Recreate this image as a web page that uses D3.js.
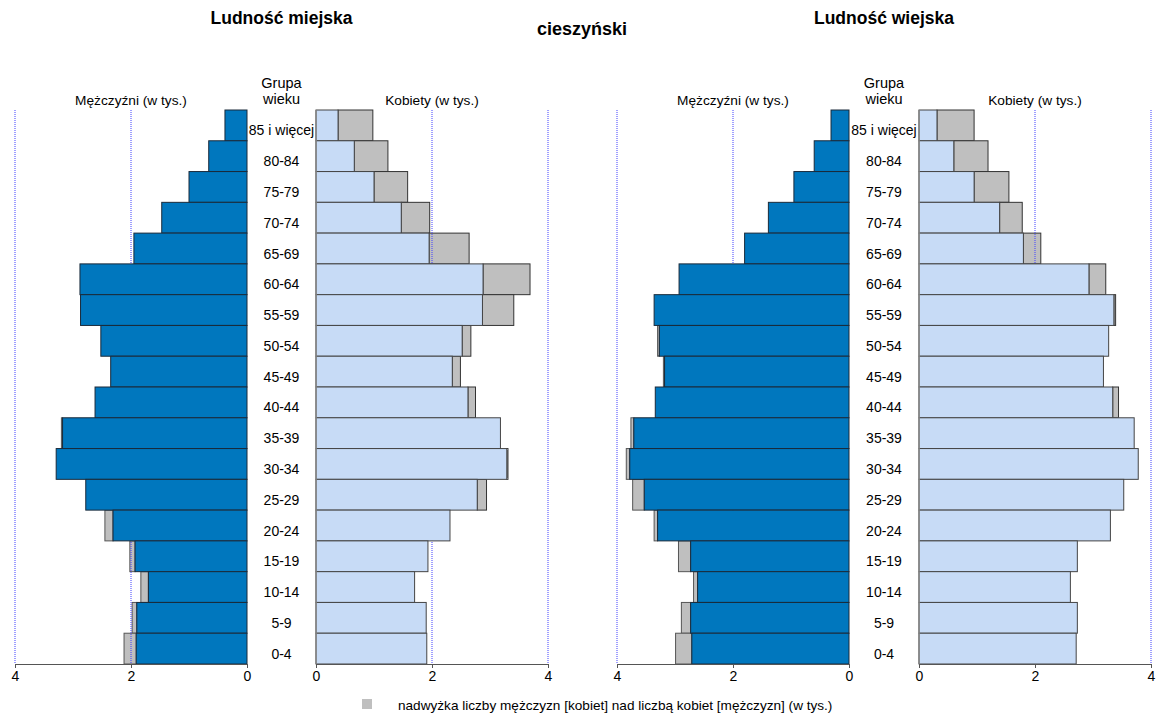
<!DOCTYPE html>
<html><head><meta charset="utf-8">
<script src="https://cdn.jsdelivr.net/npm/d3@7"></script>
<style>
body{margin:0;background:#fff;}
text{font-family:"Liberation Sans",Arial,sans-serif;fill:#000;}
</style></head><body>
<svg id="c" width="1158" height="717"></svg>
<script>
const ageGroups = ["85 i więcej","80-84","75-79","70-74","65-69","60-64","55-59","50-54","45-49","40-44","35-39","30-34","25-29","20-24","15-19","10-14","5-9","0-4"];
const urbanMale   = [0.38,0.66,1.00,1.47,1.95,2.88,2.87,2.52,2.35,2.62,3.20,3.29,2.78,2.45,2.02,1.83,1.98,2.12];
const urbanFemale = [0.98,1.24,1.58,1.96,2.64,3.69,3.41,2.67,2.49,2.75,3.18,3.31,2.94,2.31,1.93,1.70,1.90,1.91];
const ruralMale   = [0.31,0.60,0.95,1.39,1.80,2.93,3.36,3.30,3.20,3.34,3.76,3.84,3.73,3.36,2.94,2.68,2.89,2.99];
const ruralFemale = [0.95,1.19,1.55,1.78,2.10,3.22,3.39,3.27,3.18,3.44,3.71,3.78,3.53,3.30,2.73,2.61,2.73,2.71];
const axisTicks = [0,2,4];
const titles = ["Ludność miejska","Ludność wiejska"];
const regionName = "cieszyński";
const maleLabel = "Mężczyźni (w tys.)";
const femaleLabel = "Kobiety (w tys.)";
const ageHeader = ["Grupa","wieku"];
const legendText = "nadwyżka liczby mężczyzn [kobiet] nad liczbą kobiet [mężczyzn] (w tys.)";

const C = {male:"#0077be", female:"#c7dbf6", excess:"#bfbfbf", grid:"#4040ff"};
const svg = d3.select("#c");

const yTop = 110, yBottom = 664;
const y = d3.scaleBand().domain(ageGroups).range([yTop,yBottom]).padding(0);

function panel(mVals, fVals, mx0, fx0, title){
  const xm = d3.scaleLinear().domain([0,4]).range([mx0, mx0-232]);
  const xf = d3.scaleLinear().domain([0,4]).range([fx0, fx0+232]);
  const g = svg.append("g");
  const mid = (mx0+fx0)/2;

  const data = ageGroups.map((a,i)=>({a, m:mVals[i], f:fVals[i]}));
  g.selectAll(".me").data(data.filter(d=>d.m>d.f)).join("rect")
    .attr("x",d=>xm(d.m)).attr("width",d=>xm(d.f)-xm(d.m))
    .attr("y",d=>y(d.a)).attr("height",y.bandwidth())
    .attr("fill",C.excess).attr("stroke","#555").attr("stroke-width",1);
  g.selectAll(".fe").data(data.filter(d=>d.f>d.m)).join("rect")
    .attr("x",d=>xf(d.m)).attr("width",d=>xf(d.f)-xf(d.m))
    .attr("y",d=>y(d.a)).attr("height",y.bandwidth())
    .attr("fill",C.excess).attr("stroke","#333").attr("stroke-width",1);

  [2,4].forEach(v=>{
    [xm(v), xf(v)].forEach(x=>{
      g.append("line").attr("x1",x).attr("x2",x).attr("y1",yTop).attr("y2",yBottom)
        .attr("stroke",C.grid).attr("stroke-width",1).attr("stroke-dasharray","1,1");
    });
  });

  g.selectAll(".mb").data(data).join("rect")
    .attr("x",d=>xm(Math.min(d.m,d.f))).attr("width",d=>xm(0)-xm(Math.min(d.m,d.f)))
    .attr("y",d=>y(d.a)).attr("height",y.bandwidth())
    .attr("fill",C.male).attr("stroke","#1a2a3a").attr("stroke-width",1);
  g.selectAll(".fb").data(data).join("rect")
    .attr("x",xf(0)).attr("width",d=>xf(Math.min(d.m,d.f))-xf(0))
    .attr("y",d=>y(d.a)).attr("height",y.bandwidth())
    .attr("fill",C.female).attr("stroke","#444").attr("stroke-width",1);
  g.append("line").attr("x1",xf(0)).attr("x2",xf(0)).attr("y1",yTop).attr("y2",yBottom)
    .attr("stroke","#888").attr("stroke-width",1.5);

  const fmt = d3.format("d");
  const am = g.append("g").attr("transform",`translate(0,${yBottom})`)
    .call(d3.axisBottom(xm).tickValues(axisTicks).tickFormat(fmt).tickSize(4).tickPadding(3));
  const af = g.append("g").attr("transform",`translate(0,${yBottom})`)
    .call(d3.axisBottom(xf).tickValues(axisTicks).tickFormat(fmt).tickSize(4).tickPadding(3));
  [am,af].forEach(a=>{
    a.select(".domain").attr("stroke","#555");
    a.selectAll(".tick line").attr("stroke","#555");
    a.selectAll("text").attr("font-size",14).attr("fill","#000")
      .style("font-family","Liberation Sans, Arial, sans-serif");
  });

  g.selectAll(".al").data(ageGroups).join("text")
    .attr("x",mid).attr("y",d=>y(d)+y.bandwidth()/2+10)
    .attr("text-anchor","middle").attr("font-size",14).text(d=>d);

  g.append("text").attr("x",mid).attr("y",88).attr("text-anchor","middle").attr("font-size",14.5).text(ageHeader[0]);
  g.append("text").attr("x",mid).attr("y",104).attr("text-anchor","middle").attr("font-size",14.5).text(ageHeader[1]);
  g.append("text").attr("x",xm(2)).attr("y",105).attr("text-anchor","middle").attr("font-size",13.7).text(maleLabel);
  g.append("text").attr("x",xf(2)).attr("y",105).attr("text-anchor","middle").attr("font-size",13.7).text(femaleLabel);
  g.append("text").attr("x",mid).attr("y",24).attr("text-anchor","middle").attr("font-size",17.5)
    .attr("font-weight","bold").text(title);
}

panel(urbanMale, urbanFemale, 247, 316, titles[0]);
panel(ruralMale, ruralFemale, 849, 919, titles[1]);

svg.append("text").attr("x",582).attr("y",35).attr("text-anchor","middle").attr("font-size",18)
  .attr("font-weight","bold").text(regionName);

svg.append("rect").attr("x",362).attr("y",699).attr("width",10).attr("height",10).attr("fill",C.excess);
svg.append("text").attr("x",398).attr("y",710).attr("font-size",13.6).text(legendText);
</script></body></html>
